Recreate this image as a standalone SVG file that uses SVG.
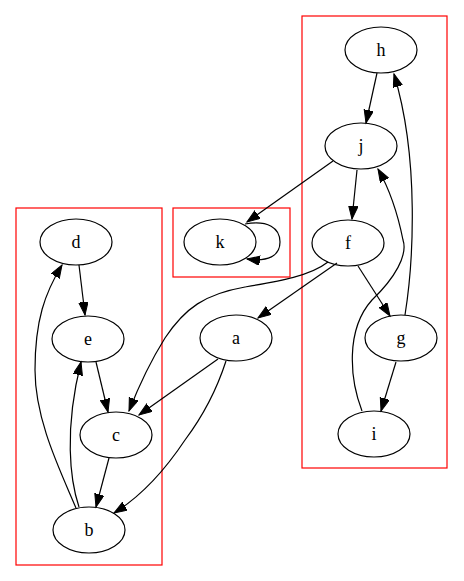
<svg xmlns="http://www.w3.org/2000/svg" width="464" height="581" viewBox="0 0 464 581">
<style>
.n ellipse{fill:none;stroke:#000;stroke-width:1.2}
.n text{font-family:"Liberation Serif",serif;font-size:18px;text-anchor:middle}
.cl{fill:none;stroke:#ff0000;stroke-width:1.2}
#edges path{fill:none;stroke:#000;stroke-width:1.2;marker-end:url(#ah)}
</style>
<defs>
<marker id="ah" markerUnits="userSpaceOnUse" markerWidth="15" markerHeight="11" refX="13" refY="4.7" orient="auto">
<path d="M0,0 L13,4.7 L0,9.4 z" fill="#000" stroke="#000" stroke-width="1"/>
</marker>
</defs>
<rect width="464" height="581" fill="#fff"/>
<g id="clusters">
<rect class="cl" x="16" y="208" width="146" height="357"/>
<rect class="cl" x="173" y="208" width="117" height="69"/>
<rect class="cl" x="302" y="16" width="145" height="452"/>
</g>
<g id="edges">
<path d="M377,73 L366,123"/>
<path d="M357,170 L352,219"/>
<path d="M333,161 L247,222"/>
<path d="M358,266 L390,316"/>
<path d="M337,263 L258,318"/>
<path d="M328,262 C310,276 280,281 245,287 C205,294 185,308 165,338 C150,362 138,388 129,411"/>
<path d="M405,315 C413,265 420,160 394,74"/>
<path d="M396,362 L381,411"/>
<path d="M362,411 C350,380 345,330 372,300 C395,278 408,255 403,240 C398,215 390,190 378,169"/>
<path d="M245,224 C268,220 280,228 280,242 C280,256 268,262 247,259"/>
<path d="M218,359 L139,415"/>
<path d="M226,361 C215,395 200,420 185,440 C165,470 140,497 114,513"/>
<path d="M79,265 L85,315"/>
<path d="M96,362 L108,412"/>
<path d="M109,458 L96,507"/>
<path d="M79,507 C70,480 64,430 81,362"/>
<path d="M76,508 C60,470 35,420 35,370 C35,320 45,293 62,265"/>
</g>
<g id="d" class="n"><ellipse cx="76" cy="242" rx="36" ry="23"/><text x="76" y="248">d</text></g>
<g id="e" class="n"><ellipse cx="88" cy="339" rx="36" ry="23"/><text x="88" y="345">e</text></g>
<g id="c" class="n"><ellipse cx="116" cy="435" rx="36" ry="23"/><text x="116" y="441">c</text></g>
<g id="b" class="n"><ellipse cx="89" cy="530" rx="36" ry="23"/><text x="89" y="536">b</text></g>
<g id="k" class="n"><ellipse cx="220" cy="242" rx="36" ry="23"/><text x="220" y="248">k</text></g>
<g id="a" class="n"><ellipse cx="236" cy="338" rx="36" ry="23"/><text x="236" y="344">a</text></g>
<g id="h" class="n"><ellipse cx="381" cy="50" rx="36" ry="23"/><text x="381" y="56">h</text></g>
<g id="j" class="n"><ellipse cx="361" cy="146" rx="36" ry="23"/><text x="361" y="152">j</text></g>
<g id="f" class="n"><ellipse cx="348" cy="243" rx="36" ry="23"/><text x="348" y="249">f</text></g>
<g id="g" class="n"><ellipse cx="401" cy="338" rx="36" ry="23"/><text x="401" y="344">g</text></g>
<g id="i" class="n"><ellipse cx="374" cy="434" rx="36" ry="23"/><text x="374" y="440">i</text></g>
</svg>
